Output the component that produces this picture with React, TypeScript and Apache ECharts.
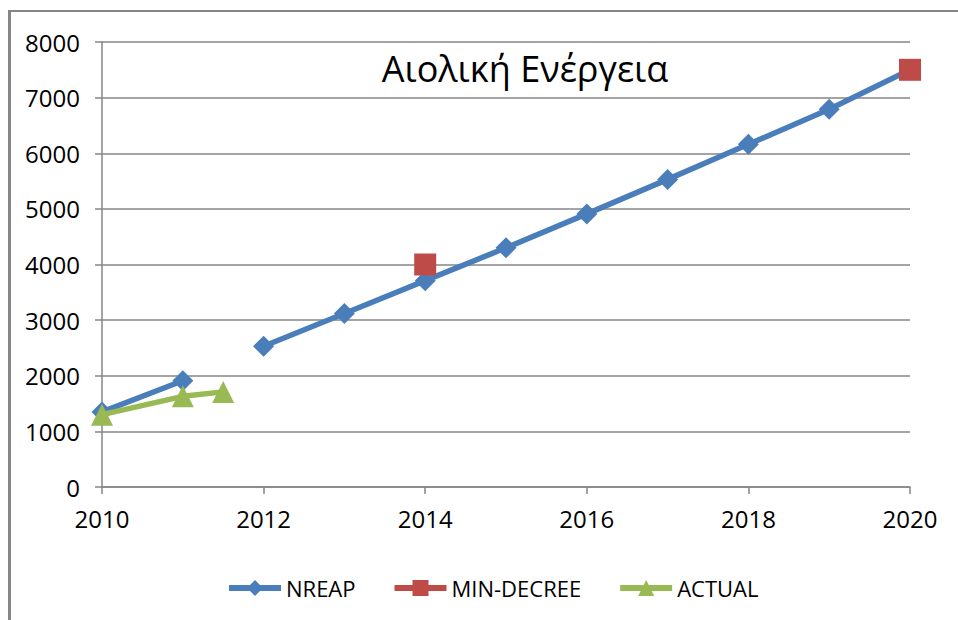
import React, { useEffect, useRef } from "react";
import * as echarts from "echarts";

const years = [2010, 2011, 2011.5, 2012, 2013, 2014, 2015, 2016, 2017, 2018, 2019, 2020];
const nreapValues: (number | null)[] = [1350, 1910, null, 2530, 3120, 3710, 4300, 4910, 5530, 6160, 6790, 7500];
const decreeYears = [2014, 2020];
const decreeValues = [4000, 7500];
const actualYears = [2010, 2011, 2011.5];
const actualValues = [1300, 1630, 1710];
const xTicks = [2010, 2012, 2014, 2016, 2018, 2020];
const yTicks = [0, 1000, 2000, 3000, 4000, 5000, 6000, 7000, 8000];
const titleText = "Αιολική Ενέργεια";

const FONT = "'Open Sans', 'Noto Sans', sans-serif";
const BLUE = "#4a7ebb";
const RED = "#be4b48";
const GREEN = "#98b954";

export default function App() {
  const ref = useRef<HTMLDivElement>(null);
  useEffect(() => {
    if (!ref.current) return;
    const chart = echarts.init(ref.current, undefined, { renderer: "svg" });
    const nreap = years.map((y, i) => [y, nreapValues[i] === null ? "-" : nreapValues[i]]);
    const decree = decreeYears.map((y, i) => [y, decreeValues[i]]);
    const actual = actualYears.map((y, i) => [y, actualValues[i]]);
    chart.setOption({
      animation: false,
      backgroundColor: "#ffffff",
      textStyle: { fontFamily: FONT },
      title: {
        text: titleText,
        left: 520,
        textAlign: "center",
        top: 45,
        textStyle: { fontFamily: FONT, fontSize: 36, fontWeight: "normal", color: "#000" },
      },
      graphic: [
        { type: "line", shape: { x1: 9.5, y1: 10, x2: 9.5, y2: 620 }, style: { stroke: "#868686", lineWidth: 3 } },
        { type: "line", shape: { x1: 8, y1: 11, x2: 958, y2: 11 }, style: { stroke: "#868686", lineWidth: 2 } },
      ],
      grid: { left: 102, right: 48, top: 42, bottom: 133, containLabel: false },
      xAxis: {
        type: "value",
        min: xTicks[0],
        max: xTicks[xTicks.length - 1],
        interval: 2,
        axisLine: { show: true, lineStyle: { color: "#868686", width: 1.5 } },
        axisTick: { show: true, length: 7, lineStyle: { color: "#868686", width: 1.5 } },
        splitLine: { show: false },
        axisLabel: { color: "#000", fontSize: 24, margin: 19, fontFamily: FONT, formatter: (v: number) => String(v) },
      },
      yAxis: {
        type: "value",
        min: yTicks[0],
        max: yTicks[yTicks.length - 1],
        interval: 1000,
        axisLine: { show: true, lineStyle: { color: "#868686", width: 1.5 } },
        axisTick: { show: true, length: 7, lineStyle: { color: "#868686", width: 1.5 } },
        splitLine: { show: true, lineStyle: { color: "#868686", width: 1.5 } },
        axisLabel: { color: "#000", fontSize: 24, margin: 22, fontFamily: FONT, formatter: (v: number) => String(v) },
      },
      legend: {
        bottom: 16,
        left: 221,
        itemWidth: 52,
        itemHeight: 20,
        itemGap: 36,
        textStyle: { fontSize: 22, color: "#000", fontFamily: FONT },
        data: [
          { name: "NREAP", lineStyle: { width: 6, color: BLUE } },
          { name: "MIN-DECREE", lineStyle: { width: 6, color: RED, opacity: 1 } },
          { name: "ACTUAL", lineStyle: { width: 6, color: GREEN } },
        ],
      },
      series: [
        {
          name: "NREAP",
          type: "line",
          data: nreap,
          connectNulls: false,
          symbol: "diamond",
          symbolSize: 21,
          lineStyle: { color: BLUE, width: 5.5 },
          itemStyle: { color: BLUE },
          z: 2,
        },
        {
          name: "MIN-DECREE",
          type: "line",
          data: decree,
          symbol: "rect",
          symbolSize: 22,
          lineStyle: { width: 0, opacity: 0, color: RED },
          itemStyle: { color: RED },
          z: 3,
        },
        {
          name: "ACTUAL",
          type: "line",
          data: actual,
          symbol: "triangle",
          symbolSize: 22,
          lineStyle: { color: GREEN, width: 5.5 },
          itemStyle: { color: GREEN },
          z: 4,
        },
      ],
    });
    return () => chart.dispose();
  }, []);
  return <div ref={ref} style={{ position: "fixed", left: 0, top: 0, width: 958, height: 620 }} />;
}
